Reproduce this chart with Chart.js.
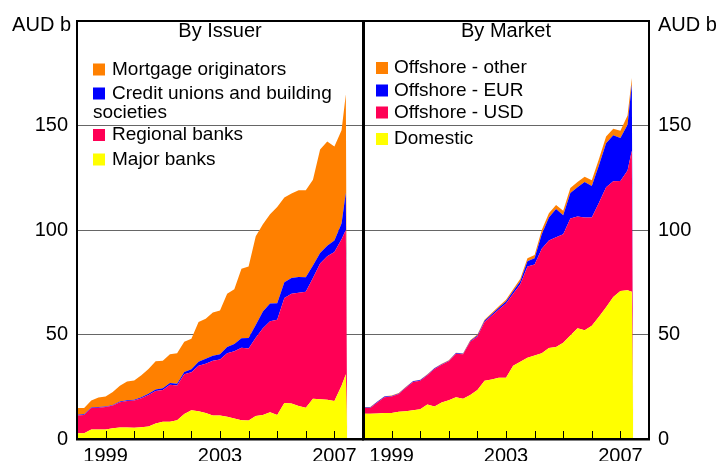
<!DOCTYPE html>
<html>
<head>
<meta charset="UTF-8">
<title>Australian securitisation by issuer and market</title>
<script src="https://cdn.jsdelivr.net/npm/chart.js"></script>
<style>
  body { margin: 0; background: #fff; }
  #wrap { position: relative; width: 720px; height: 461px; overflow: hidden; }
  canvas { position: absolute; left: 0; top: 0; }
</style>
</head>
<body>
<div id="wrap">
  <canvas id="issuer" width="720" height="461"></canvas>
  <canvas id="market" width="720" height="461"></canvas>
</div>
<script>
// quarterly observations, decimal years (last two points are the end spike and drop)
const dates = [1998, 1998.25, 1998.5, 1998.75, 1999, 1999.25, 1999.5, 1999.75,
  2000, 2000.25, 2000.5, 2000.75, 2001, 2001.25, 2001.5, 2001.75,
  2002, 2002.25, 2002.5, 2002.75, 2003, 2003.25, 2003.5, 2003.75,
  2004, 2004.25, 2004.5, 2004.75, 2005, 2005.25, 2005.5, 2005.75,
  2006, 2006.25, 2006.5, 2006.75, 2007, 2007.25, 2007.4, 2007.45];

// By issuer, AUD b
const majorBanks = [2.8, 2.8, 4.6, 4.6, 4.6, 5.2, 5.5, 5.5, 5.4, 5.6, 6.0, 7.4, 8.2, 8.2, 9.0, 12.0,
  13.7, 13.3, 12.5, 11.3, 11.2, 10.6, 9.8, 9.0, 8.8, 11.0, 11.5, 12.8, 11.5, 17.2, 17.0, 15.8,
  15.0, 19.2, 19.0, 18.8, 18.2, 25.5, 31.0, 0];
const regionalBanks = [8.5, 8.7, 10.2, 10.4, 10.7, 10.8, 12.1, 12.7, 13.0, 13.9, 15.0, 15.6, 15.3, 17.8, 16.6, 19.0,
  18.2, 21.7, 23.5, 26.1, 26.8, 30.4, 32.2, 34.7, 34.5, 37.5, 41.5, 43.5, 45.5, 50.3, 52.5, 54.2,
  55.4, 57.8, 65.0, 68.7, 71.3, 70.1, 69.0, 0];
const creditUnions = [0.3, 0.3, 0.3, 0.3, 0.3, 0.3, 0.3, 0.3, 0.4, 0.5, 0.6, 0.7, 0.8, 0.8, 0.8, 1.0,
  1.5, 2.0, 2.4, 2.4, 2.5, 3.0, 3.5, 4.5, 5.0, 6.0, 8.0, 8.5, 8.0, 7.5, 7.5, 7.5,
  7.0, 6.0, 5.0, 5.0, 5.5, 7.5, 18.0, 0];
const mortgageOriginators = [3.2, 3.0, 3.3, 4.5, 4.7, 6.2, 7.6, 9.0, 9.2, 10.5, 11.9, 13.5, 13.1, 13.7, 14.6, 14.5,
  14.6, 19.0, 19.1, 20.7, 21.0, 25.5, 26.2, 33.3, 34.2, 42.5, 41.7, 42.7, 46.0, 40.5, 40.5, 41.5,
  41.6, 41.0, 49.5, 49.8, 45.0, 44.6, 47.0, 0];

// By market, AUD b
const domestic = [12.1, 12.1, 12.2, 12.4, 12.5, 13.0, 13.3, 13.8, 14.2, 16.5, 15.6, 17.5, 18.6, 20.0, 19.2, 21.0,
  23.5, 27.9, 28.5, 29.3, 29.3, 35.0, 37.0, 38.9, 40.0, 41.0, 43.5, 44.0, 46.0, 49.5, 53.0, 52.0,
  54.2, 58.5, 63.0, 68.0, 70.8, 71.2, 70.5, 0];
const offshoreUSD = [2.7, 2.7, 5.3, 7.6, 7.8, 8.5, 11.2, 13.5, 13.7, 14.0, 17.9, 18.0, 18.6, 20.8, 21.3, 25.5,
  25.5, 28.1, 30.5, 32.7, 35.5, 34.5, 37.0, 43.6, 43.5, 50.0, 51.5, 52.5, 52.0, 56.0, 53.5, 54.0,
  51.8, 54.5, 57.5, 55.3, 52.7, 57.3, 67.5, 0];
const offshoreEUR = [0.3, 0.3, 0.3, 0.3, 0.3, 0.3, 0.3, 0.3, 0.3, 0.3, 0.3, 0.3, 0.3, 0.3, 0.3, 0.4,
  0.5, 0.6, 0.7, 0.8, 1.0, 1.2, 1.5, 2.5, 3.0, 7.0, 11.0, 13.5, 9.0, 12.2, 14.0, 17.0,
  15.0, 18.0, 21.0, 22.0, 20.5, 21.8, 31.7, 0];
const offshoreOther = [0.2, 0.2, 0.2, 0.2, 0.2, 0.2, 0.2, 0.2, 0.2, 0.2, 0.2, 0.2, 0.2, 0.2, 0.2, 0.4,
  0.5, 0.5, 0.6, 0.7, 0.8, 1.0, 1.2, 1.5, 1.5, 2.0, 2.0, 2.0, 2.2, 2.4, 2.5, 2.5,
  2.8, 3.0, 3.2, 3.2, 3.5, 4.5, 3.0, 0];

const yearLabels = [1999, 2003, 2007];
const yearTicks = [1999, 2000, 2001, 2002, 2003, 2004, 2005, 2006, 2007];
const yTicks = [0, 50, 100, 150];

const FONT = '"Liberation Sans", Arial, sans-serif';
const ORANGE = '#ff8000', BLUE = '#0000ff', RED = '#ff0055', YELLOW = '#ffff00';

function area(label, values, colour, first) {
  return {
    label: label,
    data: values.map((v, i) => ({ x: dates[i], y: v })),
    backgroundColor: colour,
    borderColor: 'rgba(0,0,0,0)',
    borderWidth: 0,
    pointRadius: 0,
    tension: 0,
    fill: first ? 'origin' : '-1'
  };
}

// frame, inner tick marks, panel title, unit label and legend
const decor = {
  id: 'decor',
  afterDraw(chart, args, o) {
    const ctx = chart.ctx, a = chart.chartArea, xs = chart.scales.x;
    ctx.save();
    ctx.strokeStyle = '#000';
    ctx.lineWidth = 1;
    yearTicks.forEach(yr => {
      const px = Math.round(xs.getPixelForValue(yr)) + 0.5;
      ctx.beginPath();
      ctx.moveTo(px, a.bottom);
      ctx.lineTo(px, a.bottom - 8);
      ctx.stroke();
    });
    ctx.lineWidth = 2;
    ctx.strokeRect(a.left + o.inset, a.top, a.right - a.left - o.inset, a.bottom - a.top);
    ctx.beginPath();
    ctx.moveTo(a.left - 1, a.bottom + 0.5);
    ctx.lineTo(a.right + 1, a.bottom + 0.5);
    ctx.stroke();

    ctx.fillStyle = '#000';
    ctx.textBaseline = 'middle';
    ctx.font = '20px ' + FONT;
    ctx.textAlign = 'center';
    ctx.fillText(o.title, (a.left + a.right) / 2, 31);
    ctx.textAlign = o.unitSide === 'left' ? 'right' : 'left';
    ctx.fillText('AUD b', o.unitSide === 'left' ? a.left - 6 : a.right + 9, 25);

    ctx.font = '19px ' + FONT;
    ctx.textAlign = 'left';
    const items = chart.data.datasets.slice().reverse();
    const maxW = a.right - 12 - o.textX;
    items.forEach((ds, i) => {
      let y = o.rows[i];
      ctx.fillStyle = ds.backgroundColor;
      ctx.fillRect(o.boxX, y - 6, 12, 12);
      ctx.fillStyle = '#000';
      const words = ds.label.split(' ');
      let line = '', x = o.textX;
      words.forEach(w => {
        const test = line ? line + ' ' + w : w;
        if (line && ctx.measureText(test).width > maxW) {
          ctx.fillText(line, x, y);
          line = w; x = o.boxX; y += 19;
        } else {
          line = test;
        }
      });
      ctx.fillText(line, x, y);
    });
    ctx.restore();
  }
};

function makeChart(id, datasets, side, decorOpts) {
  const left = side === 'left';
  return new Chart(document.getElementById(id), {
    type: 'line',
    data: { datasets: datasets },
    plugins: [decor],
    options: {
      responsive: false,
      animation: false,
      layout: { padding: { top: 16, bottom: 0, left: left ? 0 : 363, right: left ? 357 : 0 } },
      plugins: {
        legend: { display: false },
        tooltip: { enabled: false },
        decor: decorOpts
      },
      scales: {
        x: {
          type: 'linear',
          min: 1998,
          max: 2008,
          grid: { display: false, drawTicks: false },
          border: { display: false },
          ticks: {
            stepSize: 1,
            autoSkip: false,
            maxRotation: 0,
            padding: 5,
            color: '#000',
            font: { family: FONT, size: 20 },
            callback: v => yearLabels.includes(v) ? String(v) : ''
          },
          afterFit: s => { s.height = 22; }
        },
        y: {
          position: side,
          stacked: true,
          min: 0,
          max: 200,
          grid: { color: '#666666', lineWidth: 1, drawTicks: false },
          border: { display: false },
          ticks: {
            stepSize: 50,
            padding: 9,
            color: '#000',
            font: { family: FONT, size: 20 },
            callback: v => yTicks.includes(v) ? String(v) : ''
          },
          afterFit: s => { s.width = left ? 77 : 71; }
        }
      }
    }
  });
}

makeChart('issuer', [
  area('Major banks', majorBanks, YELLOW, true),
  area('Regional banks', regionalBanks, RED),
  area('Credit unions and building societies', creditUnions, BLUE),
  area('Mortgage originators', mortgageOriginators, ORANGE)
], 'left', { title: 'By Issuer', unitSide: 'left', inset: 0, boxX: 93, textX: 112, rows: [69.5, 93.5, 135, 159.5] });

makeChart('market', [
  area('Domestic', domestic, YELLOW, true),
  area('Offshore - USD', offshoreUSD, RED),
  area('Offshore - EUR', offshoreEUR, BLUE),
  area('Offshore - other', offshoreOther, ORANGE)
], 'right', { title: 'By Market', unitSide: 'right', inset: 1, boxX: 376, textX: 394, rows: [68, 90.5, 112.5, 139] });
</script>
</body>
</html>
